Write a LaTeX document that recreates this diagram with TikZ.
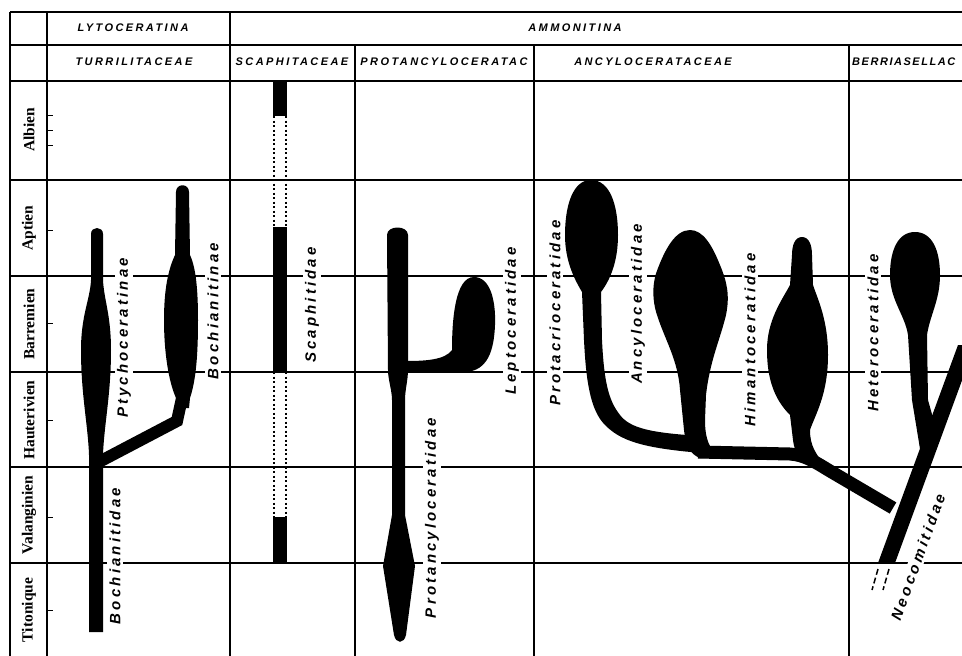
\documentclass[tikz,border=0pt]{standalone}
\usepackage{fontspec}
\setmainfont{Liberation Serif}
\newfontfamily\taxfont{Liberation Sans Bold Italic}[LetterSpace=21]
\newfontfamily\headfont{Liberation Sans Bold Italic}[LetterSpace=22]
\newfontfamily\headfontnarrow{Liberation Sans Bold Italic}[LetterSpace=14]
\begin{document}
\begin{tikzpicture}[x=1pt,y=-1pt,
  grid/.style={line width=1.2pt,black},
  tick/.style={line width=1pt,black},
  taxon/.style={font=\taxfont\fontsize{15}{15}\selectfont,
                rotate=90,fill=white,inner sep=2pt},
  head/.style={font=\headfont\fontsize{11}{11}\selectfont,inner sep=0pt},
  stage/.style={font=\bfseries\fontsize{15.5}{15.5}\selectfont,rotate=90,inner sep=0pt},
  lineage/.style={fill=black},
  gap/.style={line width=1.2pt,dash pattern=on 2pt off 2.5pt}]

\clip (0,0) rectangle (962,656);
\fill[white] (0,0) rectangle (962,656);

% ---------- table frame ----------
\foreach \yy in {12,45,81,180,276,372,467,563}
  \draw[grid] (10,\yy) -- (962,\yy);
\draw[grid] (10,12) -- (10,656);
\draw[grid] (47,12) -- (47,656);
\draw[grid] (230,12) -- (230,656);
\foreach \xx in {355,534,849}
  \draw[grid] (\xx,45) -- (\xx,656);
\foreach \yy in {115,130,145,230,323,420,517,610}
  \draw[tick] (47,\yy) -- (53,\yy);

% ---------- headings ----------
\node[head] (lyto)  at (133,28) {LYTOCERATINA};
\node[head] (ammo)  at (575,28) {AMMONITINA};
\node[head] (turr)  at (134,62) {TURRILITACEAE};
\node[head] (scaph) at (292,62) {SCAPHITACEAE};
\node[head] (prot)  at (444,62) {PROTANCYLOCERATAC};
\node[head] (ancy)  at (653,62) {ANCYLOCERATACEAE};
\node[head,font=\headfontnarrow\fontsize{11}{11}\selectfont,anchor=west] (berr) at (852,62) {BERRIASELLAC};

% ---------- stages ----------
\node[stage] (albien) at (29,130) {Albien};
\node[stage] (aptien) at (29,228) {Aptien};
\node[stage] (barr)   at (29,324) {Barremien};
\node[stage] (haut)   at (29,420) {Hauterivien};
\node[stage] (vala)   at (29,515) {Valanginien};
\node[stage] (tito)   at (29,610) {Titonique};

% ---------- taxon names ----------
\node[taxon] (ptycho) at (124,338) {Ptychoceratinae};
\node[taxon] (bochnae) at (213,311) {Bochianitinae};
\node[taxon] (bochdae) at (115,556) {Bochianitidae};
\node[taxon] (scaphdae) at (312,305) {Scaphitidae};
\node[taxon] (lepto) at (512,321) {Leptoceratidae};
\node[taxon] (protdae) at (432,518) {Protancyloceratidae};
\node[taxon] (protacr) at (555,313) {Protacrioceratidae};
\node[taxon] (ancydae) at (638,304) {Ancyloceratidae};
\node[taxon] (himan) at (750,340) {Himantoceratidae};
\node[taxon] (hetero) at (873,333) {Heteroceratidae};
\node[taxon,rotate=-20] (neoc) at (918,557) {Neocomitidae};

% ---------- Turrilitaceae ----------
% Bochianitidae trunk with the Ptychoceratinae spindle
\path[lineage] (89,632) -- (89,455)
  .. controls (88,425) and (81,395) .. (81,350)
  .. controls (81,315) and (90,300) .. (91,280) -- (91,234)
  .. controls (91,226) and (103,226) .. (103,234) -- (103,280)
  .. controls (104,300) and (111,315) .. (111,350)
  .. controls (111,395) and (104,425) .. (103,455) -- (103,632) -- cycle;
% branch towards Bochianitinae
\draw[line width=12pt] (97,463) -- (177,421) -- (182,398);
% Bochianitinae spindle
\path[lineage] (176,408) -- (176,398)
  .. controls (168,380) and (164,350) .. (164,320)
  .. controls (164,290) and (168,270) .. (175,255) -- (176,192)
  .. controls (176,183) and (189,183) .. (189,192) -- (190,255)
  .. controls (196,268) and (198,290) .. (198,320)
  .. controls (198,355) and (196,380) .. (190,398) -- (189,408) -- cycle;

% ---------- Scaphitaceae ----------
\fill (273,81) rectangle (287,116);
\fill (273,227) rectangle (287,372);
\fill (273,517) rectangle (287,563);
\draw[gap] (274,116) -- (274,227);
\draw[gap] (286,116) -- (286,227);
\draw[gap] (274,372) -- (274,517);
\draw[gap] (286,372) -- (286,517);

% ---------- Protancyloceratidae ----------
\path[lineage] (387,235)
  .. controls (387,225) and (408,225) .. (408,235) -- (408,370)
  .. controls (408,380) and (405,390) .. (405,400) -- (405,515)
  -- (415,566) -- (406,635)
  .. controls (404,644) and (396,644) .. (394,635)
  -- (383,566) -- (392,515) -- (392,400)
  .. controls (392,390) and (388,380) .. (388,370) -- cycle;
% Leptoceratidae
\path[lineage] (406,361)
  .. controls (425,361) and (445,360) .. (452,350)
  .. controls (452,320) and (455,277) .. (474,277)
  .. controls (490,277) and (496,300) .. (495,325)
  .. controls (494,350) and (488,371) .. (465,372) -- (406,373) -- cycle;

% ---------- Ancyloceratacea ----------
% Protacrioceratidae
\path[lineage] (591,180)
  .. controls (573,180) and (565,205) .. (565,235)
  .. controls (565,262) and (575,280) .. (582,292) -- (584,340)
  .. controls (586,380) and (590,410) .. (605,425)
  .. controls (620,440) and (640,448) .. (702,453) -- (702,436)
  .. controls (650,433) and (630,428) .. (620,415)
  .. controls (608,400) and (604,380) .. (602,340) -- (601,292)
  .. controls (610,280) and (618,262) .. (618,235)
  .. controls (618,205) and (610,180) .. (591,180) -- cycle;
% Ancyloceratidae
\path[lineage] (690,230)
  .. controls (675,230) and (665,250) .. (658,268)
  .. controls (652,282) and (652,300) .. (657,315)
  .. controls (665,340) and (678,360) .. (680,390) -- (684,430)
  .. controls (686,448) and (692,455) .. (700,458) -- (720,458)
  .. controls (710,450) and (705,440) .. (705,420) -- (706,395)
  .. controls (710,360) and (720,340) .. (726,315)
  .. controls (730,295) and (727,282) .. (720,265)
  .. controls (712,245) and (703,230) .. (690,230) -- cycle;
% common stem joining the Ancyloceratacea to the Neocomitidae
\draw[line width=13pt] (698,452) -- (790,454)
  .. controls (805,455) and (815,462) .. (830,471) -- (893,508);
% Himantoceratidae
\path[lineage] (802,237)
  .. controls (795,237) and (792,245) .. (792,255) -- (790,285)
  .. controls (782,300) and (767,320) .. (767,350)
  .. controls (767,380) and (775,400) .. (790,415) -- (793,440)
  .. controls (795,455) and (800,460) .. (810,465) -- (830,470)
  .. controls (815,455) and (810,445) .. (810,430)
  .. controls (815,415) and (828,395) .. (828,355)
  .. controls (828,320) and (818,300) .. (813,285) -- (812,255)
  .. controls (812,245) and (809,237) .. (802,237) -- cycle;

% ---------- Berriasellacea ----------
% Heteroceratidae
\path[lineage] (915,232)
  .. controls (898,232) and (890,250) .. (890,275)
  .. controls (890,300) and (905,315) .. (908,335)
  -- (912,400) -- (921,455) -- (935,425) -- (928,400) -- (927,335)
  .. controls (930,315) and (940,300) .. (940,275)
  .. controls (940,250) and (932,232) .. (915,232) -- cycle;
% Neocomitidae
\path[lineage] (878,563) -- (895,563) -- (975,345) -- (958,345) -- cycle;
\draw[line width=1.5pt,dash pattern=on 6pt off 3pt] (878,569) -- (872,590);
\draw[line width=1.5pt,dash pattern=on 6pt off 3pt] (889,569) -- (883,590);
\end{tikzpicture}
\end{document}
